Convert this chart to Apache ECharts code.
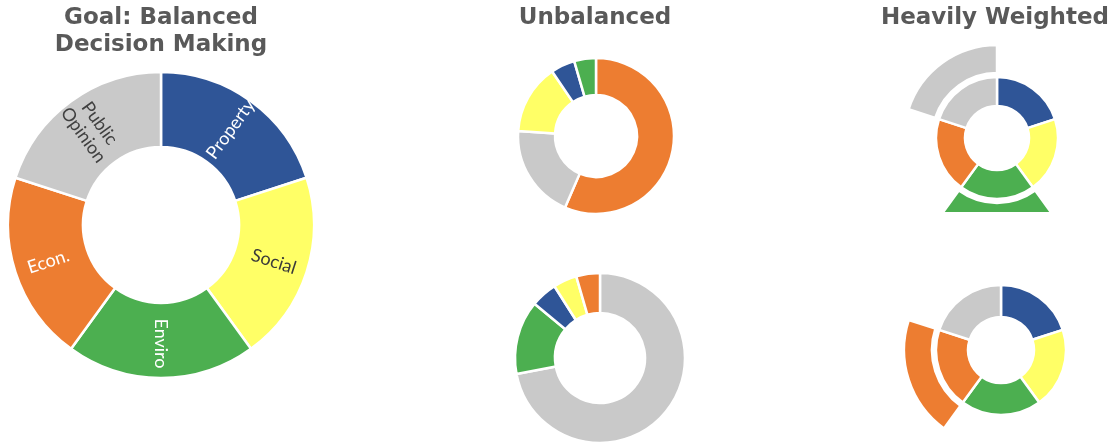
<!DOCTYPE html>
<html><head><meta charset="utf-8">
<script src="https://cdn.jsdelivr.net/npm/echarts@6/dist/echarts.min.js"></script>
<style>
html,body{margin:0;padding:0;background:#fff;}
#main{position:absolute;left:0;top:0;width:1118px;height:447px;}
#topRight{position:absolute;left:0;top:0;width:1118px;height:212px;}
</style></head><body>
<div id="main"></div><div id="topRight"></div>
<script>
// ---- data ----
const categories = ['Property', 'Social', 'Enviro', 'Econ.', 'Public Opinion'];
const balancedValues = [20, 20, 20, 20, 20];
const unbalancedTopNames = ['Econ.', 'Public Opinion', 'Social', 'Property', 'Enviro'];
const unbalancedTopValues = [56.5, 19.5, 14.5, 5, 4.5];
const unbalancedBottomNames = ['Public Opinion', 'Enviro', 'Property', 'Social', 'Econ.'];
const unbalancedBottomValues = [72, 14, 5, 4.5, 4.5];
const weightedTopEmphasis = ['Enviro', 'Public Opinion'];
const weightedBottomEmphasis = ['Econ.'];
const titles = ['Goal: Balanced\nDecision Making', 'Unbalanced', 'Heavily Weighted'];

// ---- styles ----
const categoryColors = {
  'Property': '#2F5597', 'Social': '#FFFF66', 'Enviro': '#4CAF50',
  'Econ.': '#ED7D31', 'Public Opinion': '#C9C9C9'
};
const labelColors = {
  'Property': '#ffffff', 'Social': '#3a3a3a', 'Enviro': '#ffffff',
  'Econ.': '#ffffff', 'Public Opinion': '#404040'
};
const border = { borderColor: '#ffffff', borderWidth: 2.5 };
const titleStyle = { fontFamily: 'DejaVu Sans', fontWeight: 'bold', fontSize: 23, color: '#595959', lineHeight: 27 };

function solidData(names, values) {
  return names.map((n, i) => ({ name: n, value: values[i], itemStyle: Object.assign({ color: categoryColors[n] }, border) }));
}
function outerData(names, values, emphasis) {
  return names.map((n, i) => ({
    name: n, value: values[i],
    itemStyle: emphasis.includes(n)
      ? Object.assign({ color: categoryColors[n] }, border)
      : { color: 'rgba(0,0,0,0)', borderWidth: 0 }
  }));
}
function pie(data, center, radius, extra) {
  return Object.assign({
    type: 'pie', center: center, radius: radius, startAngle: 90, clockwise: true,
    silent: true, animation: false, label: { show: false }, labelLine: { show: false },
    emphasis: { disabled: true }, data: data
  }, extra || {});
}

const mainChart = echarts.init(document.getElementById('main'), null, { renderer: 'canvas' });
mainChart.setOption({
  backgroundColor: '#ffffff',
  title: [
    { text: titles[0], left: 161, top: 5, textAlign: 'center', padding: 0, textStyle: titleStyle },
    { text: titles[1], left: 595, top: 5, textAlign: 'center', padding: 0, textStyle: titleStyle }
  ],
  series: [
    pie(categories.map((n, i) => ({
      name: n, value: balancedValues[i],
      itemStyle: Object.assign({ color: categoryColors[n] }, border),
      label: { color: labelColors[n] }
    })), [161, 225], [78, 153], {
      label: {
        show: true, position: 'inside', rotate: 'radial',
        fontFamily: 'Lato', fontSize: 18, lineHeight: 20,
        formatter: p => p.name.replace(' ', '\n')
      }
    }),
    pie(solidData(unbalancedTopNames, unbalancedTopValues), [596, 136], [41, 78]),
    pie(solidData(unbalancedBottomNames, unbalancedBottomValues), [600, 358], [45, 85]),
    pie(solidData(categories, balancedValues), [1001, 350], [33, 65]),
    pie(outerData(categories, balancedValues, weightedBottomEmphasis), [1001, 350], [69, 97])
  ]
});

const trChart = echarts.init(document.getElementById('topRight'), null, { renderer: 'canvas' });
trChart.setOption({
  title: [
    { text: titles[2], left: 995, top: 5, textAlign: 'center', padding: 0, textStyle: titleStyle }
  ],
  series: [
    pie(solidData(categories, balancedValues), [997, 138], [32, 61]),
    pie(outerData(categories, balancedValues, weightedTopEmphasis), [997, 138], [65, 93])
  ]
});
</script>
</body></html>
